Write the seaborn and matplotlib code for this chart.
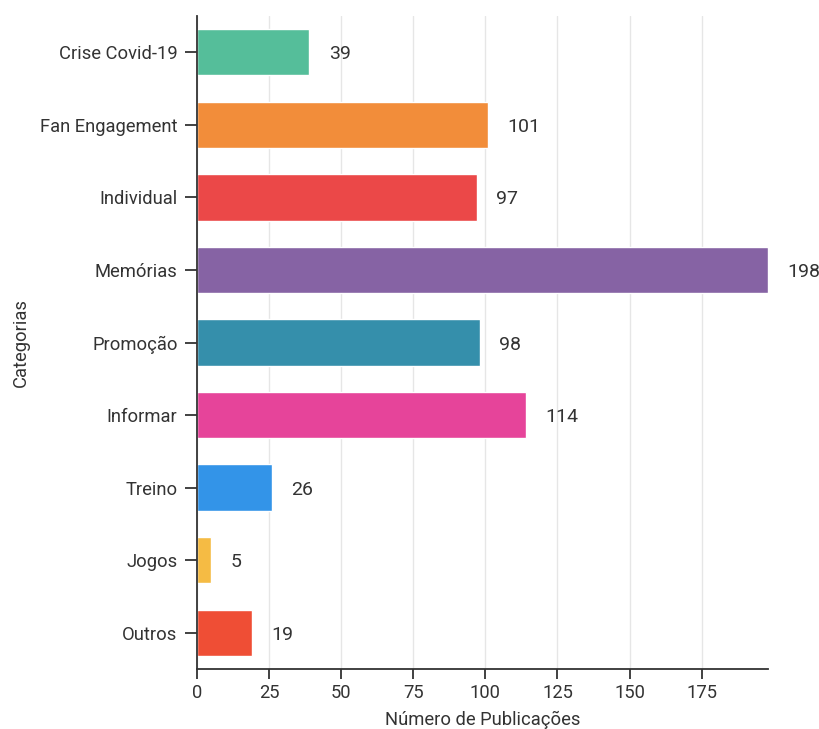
import matplotlib
matplotlib.use("Agg")
import matplotlib.pyplot as plt
import seaborn as sns
import pandas as pd

categories = ["Crise Covid-19", "Fan Engagement", "Individual", "Memórias", "Promoção",
              "Informar", "Treino", "Jogos", "Outros"]
values = [39, 101, 97, 198, 98, 114, 26, 5, 19]
colors = ["#55BE9A", "#F28D3A", "#EB4848", "#8663A4", "#358FAB",
          "#E6449A", "#3394E8", "#F5BB44", "#EF4E35"]
xticks = [0, 25, 50, 75, 100, 125, 150, 175]

sns.set_theme(style="white")
plt.rcParams["font.family"] = ["Roboto", "DejaVu Sans"]

df = pd.DataFrame({"cat": categories, "val": values})

fig = plt.figure(figsize=(8.2, 7.29), dpi=100)
ax = fig.add_axes([197 / 820, 1 - 669 / 729, 571 / 820, 653 / 729])

sns.barplot(data=df, y="cat", x="val", hue="cat", palette=colors, legend=False,
            orient="h", width=0.64, ax=ax, saturation=1, zorder=3)

ax.set_xlim(0, max(values))
ax.set_ylim(len(categories) - 0.5, -0.5)
ax.set_xticks(xticks)
ax.set_xticklabels([str(t) for t in xticks])
ax.grid(axis="x", color="#e6e6e6", linewidth=1, zorder=0)
ax.grid(axis="y", visible=False)

for sp in ["top", "right"]:
    ax.spines[sp].set_visible(False)
for sp in ["left", "bottom"]:
    ax.spines[sp].set_color("#333333")
    ax.spines[sp].set_linewidth(1.3)
    ax.spines[sp].set_zorder(5)

ax.tick_params(axis="y", length=9, width=1.3, color="#333333",
               labelsize=13.2, labelcolor="#333333", direction="out", left=True, pad=5)
ax.tick_params(axis="x", length=7, width=1.3, color="#333333",
               labelsize=13.2, labelcolor="#333333", direction="out", bottom=True, pad=4)

for i, v in enumerate(values):
    ax.annotate(str(v), xy=(v, i), xytext=(14, 0), textcoords="offset points",
                ha="left", va="center_baseline", fontsize=14, color="#333333",
                annotation_clip=False)

ax.set_xlabel("Número de Publicações", fontsize=13.2, color="#333333", labelpad=6)
ax.set_ylabel("Categorias", fontsize=13.2, color="#333333", labelpad=7)

fig.savefig("out.png", dpi=100)
